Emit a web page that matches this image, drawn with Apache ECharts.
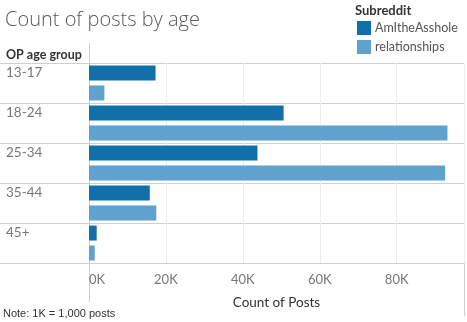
<!DOCTYPE html>
<html>
<head>
<meta charset="utf-8">
<script src="https://cdn.jsdelivr.net/npm/echarts@6/dist/echarts.min.js"></script>
<style>
  html, body { margin: 0; padding: 0; background: #fff; }
  #chart { width: 467px; height: 322px; }
</style>
</head>
<body>
<div id="chart"></div>
<script>
// data
const ageGroups = ['13-17', '18-24', '25-34', '35-44', '45+'];
const aitaPosts = [17300, 50600, 43800, 15800, 2000];
const relationshipPosts = [4000, 93200, 92600, 17500, 1500];
const xTicks = [0, 20000, 40000, 60000, 80000];

const FONT = 'Lato, "Open Sans", sans-serif';
const LINE = '#cfcfcf';

function initChart() {
    const chart = echarts.init(document.getElementById('chart'));
    const option = {
        animation: false,
        textStyle: { fontFamily: FONT },
        title: [
            {
                text: 'Count of posts by age',
                left: 5, top: 10, padding: 0,
                textStyle: { fontSize: 20, fontWeight: 300, color: '#5a5a5a', fontFamily: '"Open Sans", sans-serif' }
            },
            {
                text: 'Subreddit',
                left: 355, top: 4, padding: 0,
                textStyle: { fontSize: 13, fontWeight: 'bold', color: '#333', fontFamily: FONT }
            },
            {
                text: 'OP age group',
                left: 6, top: 48, padding: 0,
                textStyle: { fontSize: 12.5, fontWeight: 'bold', color: '#333', fontFamily: FONT }
            },
            {
                text: 'Note: 1K = 1,000 posts',
                left: 3, top: 308, padding: 0,
                textStyle: { fontSize: 11, fontWeight: 'normal', color: '#333', fontFamily: '"Liberation Sans", Arial, sans-serif' }
            }
        ],
        legend: {
            orient: 'vertical',
            left: 357, top: 21, padding: 0,
            itemWidth: 14, itemHeight: 14, itemGap: 5,
            icon: 'rect',
            textStyle: { fontSize: 12.5, color: '#555', fontFamily: FONT, padding: [0, 0, 0, -1] },
            data: ['AmItheAsshole', 'relationships']
        },
        grid: { left: 89, right: 3, top: 63, bottom: 59 },
        xAxis: {
            type: 'value',
            min: 0, max: 97500, interval: xTicks[1] - xTicks[0],
            name: 'Count of Posts',
            nameLocation: 'middle',
            nameGap: 33,
            nameTextStyle: { fontSize: 13.5, color: '#333', fontFamily: FONT },
            axisLine: { show: false },
            axisTick: { show: false },
            axisLabel: {
                color: '#777', fontSize: 13, margin: 10, fontFamily: FONT,
                showMaxLabel: false, alignMinLabel: 'left',
                formatter: v => (v / 1000) + 'K'
            },
            splitLine: { lineStyle: { color: '#ededed' } }
        },
        yAxis: {
            type: 'category',
            data: ageGroups,
            inverse: true,
            axisLine: { lineStyle: { color: LINE } },
            axisTick: { show: true, length: 89, lineStyle: { color: LINE } },
            axisLabel: {
                color: '#777', fontSize: 13.5, align: 'left', margin: 83, fontFamily: FONT,
                verticalAlign: 'bottom', padding: [0, 0, 3, 0]
            },
            splitLine: { show: true, lineStyle: { color: LINE } }
        },
        series: [
            {
                name: 'AmItheAsshole', type: 'bar', data: aitaPosts,
                barWidth: 15, barGap: '33%',
                itemStyle: { color: '#1170aa' }
            },
            {
                name: 'relationships', type: 'bar', data: relationshipPosts,
                barWidth: 15, barGap: '33%',
                itemStyle: { color: '#5fa2ce' }
            }
        ],
        graphic: [
            { type: 'line', shape: { x1: 89.5, y1: 43, x2: 89.5, y2: 302 }, style: { stroke: LINE, lineWidth: 1 } },
            { type: 'line', shape: { x1: 464.5, y1: 63, x2: 464.5, y2: 316 }, style: { stroke: LINE, lineWidth: 1 } }
        ]
    };
    chart.setOption(option);
}

document.addEventListener('DOMContentLoaded', initChart);
</script>
</body>
</html>
